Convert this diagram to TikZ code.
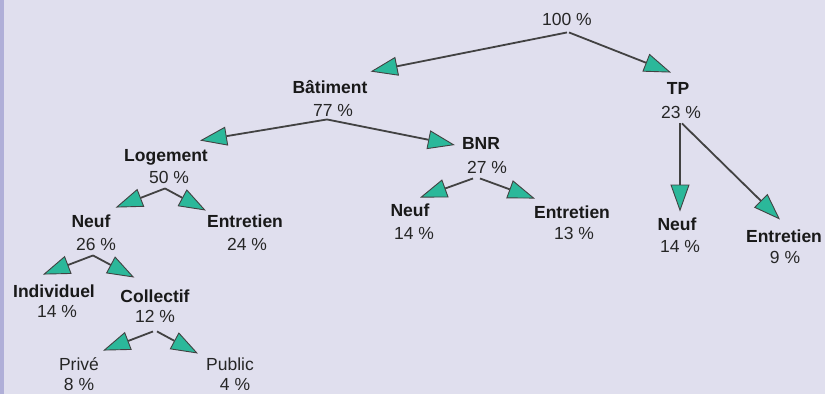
\documentclass[tikz,border=0pt]{standalone}
\usepackage{fontspec}
\setmainfont{Liberation Sans}
\usetikzlibrary{arrows.meta}

\definecolor{fond}{RGB}{224,223,238}
\definecolor{bord}{RGB}{176,175,216}
\definecolor{sarcelle}{RGB}{43,184,154}
\definecolor{trait}{RGB}{66,66,66}

\begin{document}
\begin{tikzpicture}[x=1pt, y=-1pt,
    lbl/.style={font=\fontsize{17.5}{21}\selectfont\bfseries, text=black!90,
        inner sep=0pt, text height=12.5pt, text depth=0pt},
    val/.style={font=\fontsize{17.5}{21}\selectfont, text=black!85,
        inner sep=0pt, text height=12.5pt, text depth=0pt},
    flow/.style={draw=trait, line width=1.8pt,
        -{Triangle[length=27pt, width=19pt, fill=sarcelle, line width=0.9pt]}}]

    % fond
    \useasboundingbox (0,0) rectangle (825,394);
    \fill[fond] (0,0) rectangle (825,394);
    \fill[bord] (0,0) rectangle (4,394);

    % --------------------------
    % racine
    % --------------------------
    \node[val] (root-v) at (567,19) {100 \%};

    \node[lbl] (bat) at (330,87) {Bâtiment};
    \node[val] (bat-v) at (333,110) {77 \%};
    \node[lbl] (tp) at (678,88) {TP};
    \node[val] (tp-v) at (681,112) {23 \%};

    \draw[flow] ([shift={(0,7)}]root-v.south) -- ([shift={(3,-9)}]bat.north east);
    \draw[flow] ([shift={(2,7)}]root-v.south) -- ([shift={(-7,-9)}]tp.north);

    % --------------------------
    % Bâtiment
    % --------------------------
    \node[lbl] (log) at (166,155) {Logement};
    \node[val] (log-v) at (169,177) {50 \%};
    \node[lbl] (bnr) at (481,143) {BNR};
    \node[val] (bnr-v) at (487,167) {27 \%};

    \draw[flow] ([shift={(-6,3)}]bat-v.south) -- ([shift={(-8,-8)}]log.north east);
    \draw[flow] ([shift={(-6,3)}]bat-v.south) -- ([shift={(-7,2)}]bnr.west);

    % Logement
    \node[lbl] (neuf1) at (91,221) {Neuf};
    \node[val] (neuf1-v) at (96,244) {26 \%};
    \node[lbl] (ent1) at (245,221) {Entretien};
    \node[val] (ent1-v) at (247,244) {24 \%};

    \draw[flow] ([shift={(-4,5)}]log-v.south) -- ([shift={(5,-7)}]neuf1.north east);
    \draw[flow] ([shift={(-4,5)}]log-v.south) -- ([shift={(-1,-4)}]ent1.north west);

    % Neuf
    \node[lbl] (ind) at (54,291) {Individuel};
    \node[val] (ind-v) at (57,311) {14 \%};
    \node[lbl] (col) at (155,296) {Collectif};
    \node[val] (col-v) at (155,316) {12 \%};

    \draw[flow] ([shift={(-3,5)}]neuf1-v.south) -- ([shift={(-11,-10)}]ind.north);
    \draw[flow] ([shift={(-3,5)}]neuf1-v.south) -- ([shift={(14,-12)}]col.north west);

    % Collectif
    \node[val] (prive) at (79,364) {Privé};
    \node[val] (prive-v) at (79,384) {8 \%};
    \node[val] (public) at (230,364) {Public};
    \node[val] (public-v) at (235,384) {4 \%};

    \draw[flow] ([shift={(-2,9)}]col-v.south) -- ([shift={(4,-7)}]prive.north east);
    \draw[flow] ([shift={(2,9)}]col-v.south) -- ([shift={(-8,-4)}]public.north west);

    % BNR
    \node[lbl] (neuf2) at (410,210) {Neuf};
    \node[val] (neuf2-v) at (414,233) {14 \%};
    \node[lbl] (ent2) at (572,212) {Entretien};
    \node[val] (ent2-v) at (574,233) {13 \%};

    \draw[flow] ([shift={(-14,5)}]bnr-v.south) -- ([shift={(10,-6)}]neuf2.north);
    \draw[flow] ([shift={(-7,5)}]bnr-v.south) -- ([shift={(1,-7)}]ent2.north west);

    % --------------------------
    % TP
    % --------------------------
    \node[lbl] (neuf3) at (677,224) {Neuf};
    \node[val] (neuf3-v) at (680,246) {14 \%};
    \node[lbl] (ent3) at (784,236) {Entretien};
    \node[val] (ent3-v) at (785,257) {9 \%};

    \draw[flow] ([shift={(-1,5)}]tp-v.south) -- ([shift={(3,-6)}]neuf3.north);
    \draw[flow] ([shift={(1,5)}]tp-v.south) -- ([shift={(-4,-10)}]ent3.north);

\end{tikzpicture}
\end{document}
